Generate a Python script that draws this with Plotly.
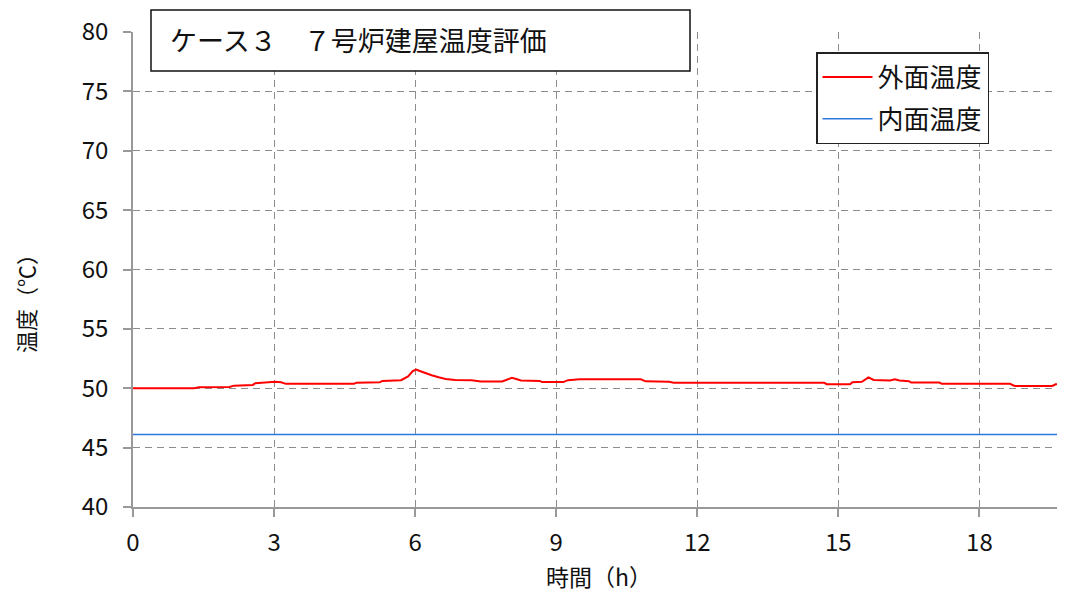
import plotly.graph_objects as go

# Data
hours_outer = [0, 1.30, 1.40, 2.05, 2.15, 2.55, 2.60, 2.95, 3.02, 3.15, 3.25, 4.70, 4.75, 5.25, 5.30,
               5.70, 5.85, 5.95, 6.02, 6.10, 6.20, 6.35, 6.50, 6.65, 6.85, 7.20, 7.40, 7.85, 7.95,
               8.06, 8.15, 8.25, 8.65, 8.70, 9.15, 9.25, 9.50, 10.80, 10.90, 11.40, 11.50, 14.70,
               14.75, 15.25, 15.30, 15.50, 15.64, 15.75, 16.10, 16.20, 16.30, 16.50, 16.55, 17.15,
               17.20, 18.65, 18.75, 19.55, 19.62, 19.82]
temp_outer = [50.00, 50.00, 50.08, 50.10, 50.22, 50.28, 50.42, 50.50, 50.55, 50.50, 50.37, 50.37,
              50.47, 50.50, 50.62, 50.68, 51.00, 51.45, 51.58, 51.45, 51.30, 51.10, 50.92, 50.78,
              50.70, 50.68, 50.57, 50.57, 50.72, 50.88, 50.78, 50.65, 50.62, 50.52, 50.52, 50.68,
              50.75, 50.75, 50.58, 50.55, 50.47, 50.47, 50.34, 50.34, 50.50, 50.55, 50.92, 50.70,
              50.66, 50.75, 50.66, 50.60, 50.48, 50.48, 50.37, 50.37, 50.20, 50.20, 50.33, 50.33]

hours_inner = [0, 19.82]
temp_inner = [46.1, 46.1]

x_ticks = [0, 3, 6, 9, 12, 15, 18]
y_ticks = [40, 45, 50, 55, 60, 65, 70, 75, 80]

title_text = "ケース３　７号炉建屋温度評価"
series_names = ["外面温度", "内面温度"]
x_title = "時間（h）"
y_title = "温度（℃）"

CJK = "Noto Sans CJK JP"
NUM = "Liberation Sans Narrow, Noto Sans CJK JP"

fig = go.Figure()
fig.add_trace(go.Scatter(x=hours_outer, y=temp_outer, mode="lines", name=series_names[0],
                         legendgroup="a", line=dict(color="#ff0000", width=2)))
fig.add_trace(go.Scatter(x=hours_inner, y=temp_inner, mode="lines", name=series_names[1],
                         legendgroup="b", line=dict(color="#2a7ae2", width=1.6)))

axis_common = dict(
    showline=True, linecolor="#999999", linewidth=1.5,
    ticks="outside", ticklen=8, tickcolor="#999999", tickwidth=1.5,
    showgrid=True, gridcolor="#8c8c8c", griddash="7px,5px", gridwidth=1.4,
    zeroline=False,
    tickfont=dict(family=NUM, size=24, color="#111111"),
)

# The page body has an 8px margin, so the figure is sized/margined to place the plot area
# at x 133..1065, y 32..507 in the window.
fig.update_layout(
    width=1057, height=584,
    margin=dict(l=125, r=0, t=24, b=85),
    paper_bgcolor="white", plot_bgcolor="white",
    showlegend=True,
    legend=dict(x=(816 - 133) / 932, y=(507 - 52) / 475, xanchor="left", yanchor="top",
                bordercolor="#222222", borderwidth=1.5, bgcolor="white",
                font=dict(family=CJK, size=26, color="#111111"),
                traceorder="grouped", tracegroupgap=5, itemwidth=50),
    xaxis=dict(range=[0, 19.82], tickvals=x_ticks, ticklabelstandoff=5, **axis_common),
    yaxis=dict(range=[40, 80], tickvals=y_ticks, ticklabelstandoff=10, **axis_common),
)

# axis titles placed at the reference positions
fig.add_annotation(xref="paper", yref="paper", x=0.5, y=(507 - 576) / 475,
                   xanchor="center", yanchor="middle", showarrow=False,
                   text=x_title, font=dict(family=CJK, size=23, color="#111111"))
fig.add_annotation(xref="paper", yref="paper", x=(25 - 133) / 932, y=(507 - 298) / 475,
                   xanchor="center", yanchor="middle", showarrow=False, textangle=-90,
                   text=y_title, font=dict(family=CJK, size=22, color="#111111"))

# title box
fig.add_shape(type="rect", xref="paper", yref="paper",
              x0=(151 - 133) / 932, x1=(690 - 133) / 932,
              y0=(507 - 71) / 475, y1=(507 - 10) / 475,
              line=dict(color="#111111", width=1.5), fillcolor="white", layer="above")
fig.add_annotation(xref="paper", yref="paper", x=(168 - 133) / 932, y=(507 - 40) / 475,
                   xanchor="left", yanchor="middle", showarrow=False,
                   text=title_text, font=dict(family=CJK, size=27, color="#111111"))

fig.write_html("out.html")
